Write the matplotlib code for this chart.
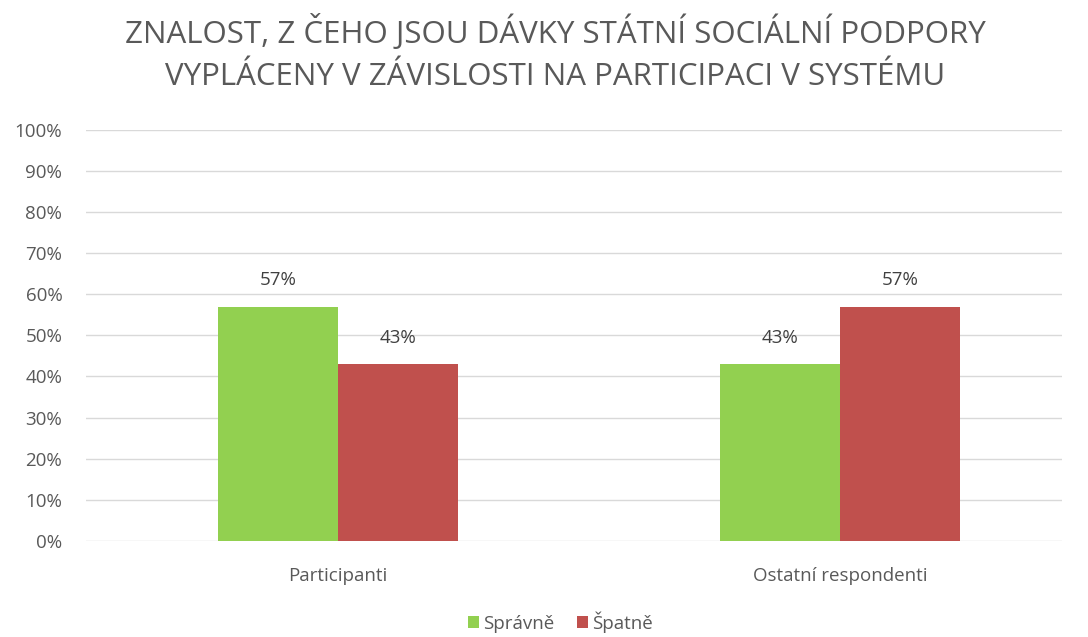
import numpy as np
import matplotlib.pyplot as plt

plt.rcParams['font.family'] = ['Open Sans', 'DejaVu Sans']

title = "ZNALOST, Z ČEHO JSOU DÁVKY STÁTNÍ SOCIÁLNÍ PODPORY\nVYPLÁCENY V ZÁVISLOSTI NA PARTICIPACI V SYSTÉMU"
categories = ["Participanti", "Ostatní respondenti"]
spravne = [57, 43]
spatne = [43, 57]
series_names = ["Správně", "Špatně"]
colors = ['#92D050', '#C0504D']

fig = plt.figure(figsize=(10.88, 6.37), dpi=100)
ax = fig.add_axes([0.079, 0.151, 0.897, 0.645])

x = np.arange(len(categories))
w = 0.239
b1 = ax.bar(x - w / 2, spravne, w, color=colors[0], label=series_names[0], zorder=3)
b2 = ax.bar(x + w / 2, spatne, w, color=colors[1], label=series_names[1], zorder=3)

for bars, vals in ((b1, spravne), (b2, spatne)):
    for bar, v in zip(bars, vals):
        ax.text(bar.get_x() + bar.get_width() / 2, v + 4.2, f"{v}%",
                ha='center', va='bottom', fontsize=13.5, color='#404040')

ax.set_ylim(0, 100)
ax.set_xlim(-0.502, 1.442)
ax.set_yticks(np.arange(0, 101, 10))
ax.set_yticklabels([f"{t}%" for t in range(0, 101, 10)])
ax.set_xticks(x)
ax.set_xticklabels(categories)
ax.tick_params(axis='both', length=0, labelsize=13.5, colors='#595959')
ax.tick_params(axis='y', pad=17)
ax.tick_params(axis='x', pad=19)
ax.yaxis.grid(True, color='#D9D9D9', linewidth=1, zorder=0)
for s in ax.spines.values():
    s.set_visible(False)

fig.suptitle(title, x=0.51, y=0.978, fontsize=22.5, color='#595959', linespacing=1.5)

fig.legend(loc='lower center', bbox_to_anchor=(0.515, -0.02), ncol=2, frameon=False,
           fontsize=13.5, handlelength=0.6, handleheight=0.6, handletextpad=0.2,
           columnspacing=1.2, labelcolor='#595959')

fig.savefig('out.png', dpi=100)
